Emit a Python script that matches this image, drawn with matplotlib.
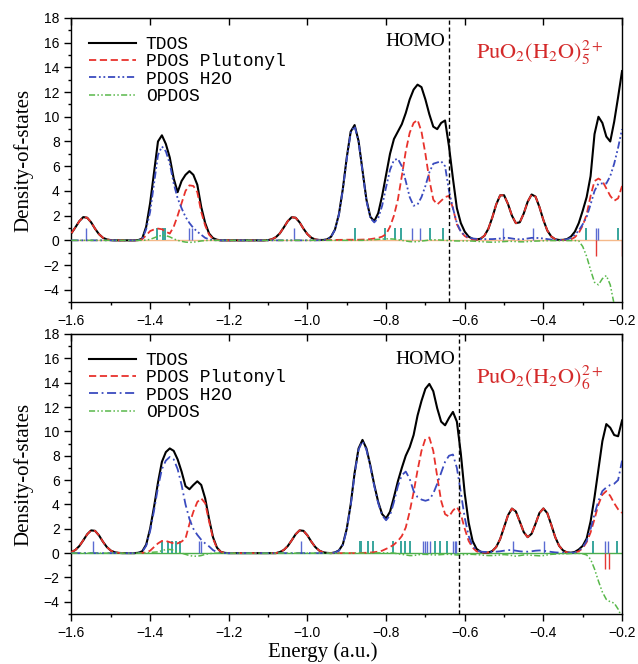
import numpy as np
import matplotlib.pyplot as plt
from matplotlib.ticker import MultipleLocator

plt.rcParams['mathtext.fontset'] = 'stix'
plt.rcParams['lines.solid_joinstyle'] = 'round'
plt.rcParams['lines.dash_joinstyle'] = 'round'

# energy grid (a.u.), one point every 0.01 from -1.60 to -0.20
energy = np.linspace(-1.60, -0.20, 141)

# ---------- PuO2(H2O)5 2+ (upper panel) ----------
tdos_5 = [
    0.58, 1.05, 1.55, 1.88, 1.83, 1.46, 0.94, 0.50, 0.21, 0.07,
    0.02, 0.0, 0.0, 0.0, 0.0, 0.0, 0.0, 0.02, 0.15, 1.1,
    3.0, 5.5, 8.0, 8.5, 7.8, 6.7, 5.0, 3.9, 4.8, 5.3,
    5.6, 5.3, 4.5, 2.7, 1.4, 0.55, 0.18, 0.05, 0.0, 0.0,
    0.0, 0.0, 0.0, 0.0, 0.0, 0.0, 0.0, 0.0, 0.0, 0.0,
    0.02, 0.09, 0.26, 0.57, 1.05, 1.55, 1.87, 1.83, 1.46, 0.94,
    0.50, 0.21, 0.07, 0.03, 0.03, 0.08, 0.29, 0.87, 2.1, 4.15,
    6.7, 8.8, 9.33, 8.05, 5.7, 3.3, 1.9, 1.55, 2.2, 3.6,
    5.3, 7.0, 8.2, 8.8, 9.4, 10.3, 11.4, 12.2, 12.6, 12.4,
    11.4, 10.2, 9.2, 9.0, 9.5, 9.7, 7.6, 5.0, 2.6, 1.4,
    0.7, 0.3, 0.12, 0.07, 0.13, 0.37, 0.93, 1.84, 2.90, 3.64,
    3.65, 2.94, 2.0, 1.39, 1.46, 2.17, 3.12, 3.71, 3.54, 2.69,
    1.64, 0.79, 0.31, 0.09, 0.03, 0.04, 0.1, 0.3, 0.7, 1.4,
    2.4, 3.5, 5.2, 8.6, 10.0, 9.5, 8.4, 8.0, 9.6, 11.6,
    13.7,
]
plutonyl_5 = [
    0.58, 1.05, 1.55, 1.88, 1.83, 1.46, 0.94, 0.50, 0.21, 0.07,
    0.02, 0.0, 0.0, 0.0, 0.0, 0.0, 0.0, 0.0, 0.1, 0.4,
    0.75, 0.88, 0.95, 0.9, 0.7, 0.55, 1.1, 2.0, 3.0, 4.0,
    4.45, 4.4, 3.9, 2.3, 1.2, 0.45, 0.12, 0.03, 0.0, 0.0,
    0.0, 0.0, 0.0, 0.0, 0.0, 0.0, 0.0, 0.0, 0.0, 0.0,
    0.02, 0.09, 0.26, 0.57, 1.05, 1.55, 1.87, 1.83, 1.46, 0.94,
    0.50, 0.21, 0.07, 0.03, 0.02, 0.02, 0.03, 0.03, 0.04, 0.04,
    0.05, 0.05, 0.05, 0.05, 0.06, 0.07, 0.1, 0.15, 0.2, 0.3,
    0.5, 1.1, 2.0, 3.3, 5.2, 7.2, 8.7, 9.5, 9.75, 8.8,
    7.0, 4.9, 3.3, 2.9, 3.2, 3.5, 3.6, 2.6, 1.3, 0.7,
    0.35, 0.15, 0.05, 0.06, 0.13, 0.37, 0.93, 1.84, 2.90, 3.64,
    3.65, 2.94, 2.0, 1.39, 1.46, 2.17, 3.12, 3.71, 3.54, 2.69,
    1.64, 0.79, 0.31, 0.09, 0.03, 0.02, 0.03, 0.08, 0.25, 0.6,
    1.2, 2.1, 3.6, 4.8, 5.0, 4.8, 4.2, 3.6, 3.2, 3.4,
    4.4,
]
water_5 = [
    0.0, 0.0, 0.0, 0.0, 0.0, 0.0, 0.0, 0.0, 0.0, 0.0,
    0.0, 0.0, 0.0, 0.0, 0.0, 0.0, 0.0, 0.02, 0.12, 0.9,
    2.3, 4.6, 6.9, 7.6, 7.2, 6.2, 4.6, 3.4, 2.6, 1.9,
    1.4, 1.0, 0.7, 0.45, 0.2, 0.08, 0.02, 0.0, 0.0, 0.0,
    0.0, 0.0, 0.0, 0.0, 0.0, 0.0, 0.0, 0.0, 0.0, 0.0,
    0.0, 0.0, 0.0, 0.0, 0.0, 0.0, 0.0, 0.0, 0.0, 0.0,
    0.0, 0.0, 0.0, 0.01, 0.02, 0.07, 0.28, 0.85, 2.05, 4.1,
    6.6, 8.7, 9.25, 8.0, 5.6, 3.2, 1.8, 1.45, 1.8, 2.8,
    4.3, 5.7, 6.5, 6.6, 6.0, 4.8, 3.5, 2.8, 2.9, 3.5,
    4.4, 5.5, 6.2, 6.3, 6.4, 6.0, 4.0, 2.6, 1.4, 0.7,
    0.4, 0.25, 0.15, 0.12, 0.1, 0.1, 0.1, 0.1, 0.12, 0.15,
    0.2, 0.2, 0.15, 0.1, 0.08, 0.1, 0.15, 0.2, 0.2, 0.18,
    0.15, 0.1, 0.06, 0.04, 0.03, 0.04, 0.08, 0.2, 0.45, 0.8,
    1.3, 1.9, 2.9, 4.0, 4.6, 4.6, 4.6, 5.2, 6.2, 7.5,
    9.0,
]
opdos_5 = [
    0.0, 0.0, 0.0, 0.0, 0.0, 0.0, 0.0, 0.0, 0.0, 0.0,
    0.0, 0.0, 0.0, 0.0, 0.0, 0.0, 0.0, 0.0, 0.0, 0.02,
    0.08, 0.2, 0.33, 0.4, 0.38, 0.28, 0.12, 0.0, -0.08, -0.14,
    -0.17, -0.15, -0.1, -0.05, -0.02, 0.0, 0.0, 0.0, 0.0, 0.0,
    0.0, 0.0, 0.0, 0.0, 0.0, 0.0, 0.0, 0.0, 0.0, 0.0,
    0.0, 0.0, 0.0, 0.0, 0.0, 0.0, 0.0, 0.0, 0.0, 0.0,
    0.0, 0.0, 0.0, 0.0, 0.0, 0.0, 0.0, 0.0, 0.0, 0.0,
    0.0, 0.0, 0.0, 0.0, 0.0, 0.02, 0.04, 0.06, 0.08, 0.1,
    0.12, 0.12, 0.1, 0.05, 0.0, -0.05, -0.1, -0.12, -0.1, -0.06,
    -0.02, 0.02, 0.04, 0.04, 0.02, 0.0, -0.02, -0.04, -0.05, -0.05,
    -0.05, -0.05, -0.06, -0.08, -0.1, -0.12, -0.14, -0.15, -0.14, -0.12,
    -0.1, -0.08, -0.08, -0.1, -0.12, -0.12, -0.1, -0.08, -0.06, -0.05,
    -0.04, -0.03, -0.02, -0.02, -0.02, -0.02, -0.02, -0.02, -0.02, -0.05,
    -0.5, -1.3, -2.4, -3.4, -3.6, -3.1, -2.85, -3.6, -5.2, -7.0,
    -9.0,
]
levels_teal_5 = [-1.383, -1.368, -1.362, -0.880, -0.803, -0.778, -0.761,
                 -0.689, -0.655, -0.292, -0.210]
levels_blue_5 = [-1.564, -1.300, -1.294, -1.035, -0.733, -0.714, -0.502,
                 -0.426, -0.265, -0.260]
levels_red_5 = [-0.265, -0.201]
homo_5 = -0.641

# ---------- PuO2(H2O)6 2+ (lower panel) ----------
tdos_6 = [
    0.09, 0.26, 0.58, 1.05, 1.55, 1.87, 1.83, 1.46, 0.94, 0.50,
    0.21, 0.07, 0.02, 0.0, 0.0, 0.0, 0.0, 0.03, 0.15, 0.7,
    2.0, 3.8, 5.8, 7.5, 8.3, 8.6, 8.4, 7.7, 6.7, 5.5,
    5.25, 5.6, 5.9, 5.6, 4.5, 2.8, 1.3, 0.45, 0.1, 0.02,
    0.0, 0.0, 0.0, 0.0, 0.0, 0.0, 0.0, 0.0, 0.0, 0.0,
    0.0, 0.0, 0.0, 0.09, 0.26, 0.58, 1.05, 1.55, 1.87, 1.83,
    1.46, 0.94, 0.50, 0.21, 0.07, 0.02, 0.0, 0.06, 0.22, 0.71,
    2.0, 4.0, 6.6, 8.6, 9.3, 8.6, 7.2, 5.6, 4.2, 3.2,
    2.85, 3.4, 4.6, 5.9, 7.0, 8.0, 8.7, 9.7, 11.3, 12.5,
    13.5, 13.9, 13.3, 11.9, 10.8, 10.5, 11.1, 11.6, 10.8, 8.2,
    4.9, 2.5, 1.0, 0.35, 0.12, 0.04, 0.05, 0.17, 0.50, 1.15,
    2.12, 3.11, 3.66, 3.42, 2.59, 1.73, 1.31, 1.59, 2.41, 3.30,
    3.67, 3.28, 2.33, 1.32, 0.6, 0.22, 0.06, 0.03, 0.1, 0.3,
    0.6, 1.2, 2.6, 4.6, 6.9, 9.2, 10.6, 10.3, 9.7, 9.6,
    10.9,
]
plutonyl_6 = [
    0.09, 0.26, 0.58, 1.05, 1.55, 1.87, 1.83, 1.46, 0.94, 0.50,
    0.21, 0.07, 0.02, 0.0, 0.0, 0.0, 0.0, 0.0, 0.02, 0.05,
    0.2, 0.5, 0.8, 1.0, 1.0, 0.9, 0.8, 0.8, 0.95, 1.2,
    2.4, 3.4, 4.2, 4.5, 4.1, 2.6, 1.2, 0.4, 0.1, 0.02,
    0.0, 0.0, 0.0, 0.0, 0.0, 0.0, 0.0, 0.0, 0.0, 0.0,
    0.0, 0.0, 0.0, 0.09, 0.26, 0.58, 1.05, 1.55, 1.87, 1.83,
    1.46, 0.94, 0.50, 0.21, 0.07, 0.02, 0.0, 0.0, 0.0, 0.0,
    0.0, 0.0, 0.0, 0.0, 0.02, 0.03, 0.05, 0.08, 0.12, 0.2,
    0.35, 0.5, 0.7, 1.0, 1.4, 2.1, 3.4, 5.0, 6.8, 8.4,
    9.4, 9.5, 8.4, 6.3, 4.3, 3.2, 3.0, 3.5, 3.8, 3.2,
    2.0, 1.0, 0.45, 0.15, 0.05, 0.04, 0.05, 0.17, 0.50, 1.15,
    2.12, 3.11, 3.66, 3.42, 2.59, 1.73, 1.31, 1.59, 2.41, 3.30,
    3.67, 3.28, 2.33, 1.32, 0.6, 0.22, 0.06, 0.02, 0.05, 0.15,
    0.4, 0.9, 1.7, 2.8, 4.0, 4.8, 5.1, 4.7, 4.1, 3.6,
    3.3,
]
water_6 = [
    0.0, 0.0, 0.0, 0.0, 0.0, 0.0, 0.0, 0.0, 0.0, 0.0,
    0.0, 0.0, 0.0, 0.0, 0.0, 0.0, 0.0, 0.02, 0.12, 0.6,
    1.8, 3.5, 5.4, 6.9, 7.6, 7.9, 7.7, 6.9, 5.6, 4.0,
    2.8, 2.0, 1.5, 1.1, 0.8, 0.55, 0.25, 0.08, 0.02, 0.0,
    0.0, 0.0, 0.0, 0.0, 0.0, 0.0, 0.0, 0.0, 0.0, 0.0,
    0.0, 0.0, 0.0, 0.0, 0.0, 0.0, 0.0, 0.0, 0.0, 0.0,
    0.0, 0.0, 0.0, 0.0, 0.0, 0.0, 0.0, 0.05, 0.2, 0.68,
    1.9, 3.9, 6.5, 8.5, 9.2, 8.5, 7.1, 5.5, 4.1, 3.1,
    2.7, 3.1, 4.2, 5.5, 6.4, 6.7, 6.1, 5.1, 4.6, 4.4,
    4.3, 4.4, 4.9, 5.7, 6.6, 7.5, 8.0, 8.1, 7.0, 5.0,
    2.9, 1.4, 0.6, 0.25, 0.12, 0.1, 0.1, 0.1, 0.12, 0.15,
    0.2, 0.25, 0.25, 0.2, 0.15, 0.12, 0.12, 0.15, 0.2, 0.22,
    0.2, 0.15, 0.1, 0.06, 0.04, 0.03, 0.03, 0.03, 0.05, 0.2,
    0.5, 1.0, 2.0, 3.2, 4.3, 5.1, 5.4, 5.6, 5.7, 6.0,
    7.6,
]
opdos_6 = [
    0.0, 0.0, 0.0, 0.0, 0.0, 0.0, 0.0, 0.0, 0.0, 0.0,
    0.0, 0.0, 0.0, 0.0, 0.0, 0.0, 0.0, 0.0, 0.0, 0.02,
    0.05, 0.08, 0.1, 0.2, 0.3, 0.3, 0.25, 0.1, 0.0, -0.1,
    -0.2, -0.25, -0.25, -0.2, -0.1, -0.05, 0.0, 0.0, 0.0, 0.0,
    0.0, 0.0, 0.0, 0.0, 0.0, 0.0, 0.0, 0.0, 0.0, 0.0,
    0.0, 0.0, 0.0, 0.0, 0.0, 0.0, 0.0, 0.0, 0.0, 0.0,
    0.0, 0.0, 0.0, 0.0, 0.0, 0.0, 0.0, 0.0, 0.0, 0.0,
    0.0, 0.0, 0.0, 0.0, 0.0, 0.0, 0.0, 0.0, 0.02, 0.02,
    0.02, 0.02, 0.0, -0.05, -0.1, -0.15, -0.2, -0.2, -0.15, -0.1,
    -0.1, -0.12, -0.15, -0.15, -0.12, -0.1, -0.1, -0.12, -0.15, -0.15,
    -0.12, -0.1, -0.1, -0.12, -0.15, -0.18, -0.2, -0.2, -0.18, -0.15,
    -0.12, -0.15, -0.2, -0.25, -0.2, -0.15, -0.15, -0.18, -0.2, -0.22,
    -0.2, -0.15, -0.1, -0.08, -0.05, -0.05, -0.05, -0.03, -0.02, -0.02,
    -0.05, -0.15, -0.5, -1.3, -2.3, -3.2, -3.8, -4.0, -4.1, -4.6,
    -5.3,
]
levels_teal_6 = [-1.370, -1.355, -1.345, -1.335, -1.325, -0.867, -0.863,
                 -0.846, -0.833, -0.782, -0.761, -0.753, -0.740, -0.676,
                 -0.663, -0.646, -0.273, -0.214]
levels_blue_6 = [-1.545, -1.275, -1.270, -1.016, -0.707, -0.701, -0.695,
                 -0.689, -0.630, -0.626, -0.621, -0.478, -0.399, -0.244,
                 -0.235]
levels_red_6 = [-0.244, -0.232]
homo_6 = -0.614

labels = ["TDOS", "PDOS Plutonyl", "PDOS H2O", "OPDOS"]
serif = "Liberation Serif"


def draw_panel(ax, tdos, pu, h2o, op, teal, blue, red, homo, name,
               h2o_ls, zero_col, homo_y, name_y):
    ax.axhline(0, color=zero_col, lw=1.0, zorder=1)
    ax.vlines(teal, 0, 1.0, color="#37a59c", lw=1.4, zorder=2)
    ax.vlines(blue, 0, 1.0, color="#5b6bd2", lw=1.0, zorder=2)
    ax.vlines(red, -1.3, 0, color="#e53935", lw=1.0, zorder=2)

    ax.plot(energy, tdos, color="black", lw=1.5, label=labels[0], zorder=3)
    ax.plot(energy, pu, color="#e8322c", lw=1.3, ls=(0, (4, 2)),
            label=labels[1], zorder=4)
    ax.plot(energy, h2o, color="#3a4bbf", lw=1.3, ls=h2o_ls,
            label=labels[2], zorder=4)
    ax.plot(energy, op, color="#58b84a", lw=1.1,
            ls=(0, (4, 1.5, 1, 1.5, 1, 1.5)), label=labels[3], zorder=4)

    ax.axvline(homo, color="black", lw=1.0, ls=(0, (3, 2)), zorder=5)
    ax.text(homo - 0.01, homo_y, "HOMO", ha="right", va="center",
            fontsize=14, family=serif)
    ax.text(-0.572, name_y, name, ha="left", va="center", fontsize=16,
            color="#d42a2a")

    ax.set_xlim(-1.6, -0.2)
    ax.set_ylim(-5, 18)
    ax.xaxis.set_major_locator(MultipleLocator(0.2))
    ax.xaxis.set_minor_locator(MultipleLocator(0.1))
    ax.yaxis.set_major_locator(MultipleLocator(2))
    ax.yaxis.set_minor_locator(MultipleLocator(1))
    ax.set_yticks(range(-4, 19, 2))
    ax.tick_params(which="both", direction="out", width=1.0,
                   labelsize=10, top=False, right=False)
    ax.tick_params(which="major", length=5)
    ax.tick_params(which="minor", length=2.5)
    for lab in ax.get_xticklabels() + ax.get_yticklabels():
        lab.set_family("Liberation Sans")
    for s in ax.spines.values():
        s.set_linewidth(1.0)

    top = ax.secondary_xaxis("top")
    top.xaxis.set_major_locator(MultipleLocator(0.2))
    top.tick_params(direction="in", length=5, width=1.0, labeltop=False)

    ax.set_ylabel("Density-of-states", family=serif, fontsize=15)
    ax.yaxis.set_label_coords(-0.069, 0.5)

    ax.legend(loc="upper left", bbox_to_anchor=(0.012, 0.975), frameon=False,
              prop={"family": "Liberation Mono", "size": 13},
              handlelength=2.6, handletextpad=0.55, labelspacing=0.02,
              borderaxespad=0.2)


fig = plt.figure(figsize=(6.38, 6.64), dpi=100)
ax1 = fig.add_axes([0.112, 0.545, 0.863, 0.428])
ax2 = fig.add_axes([0.112, 0.0753, 0.863, 0.4217])

draw_panel(ax1, tdos_5, plutonyl_5, water_5, opdos_5,
           levels_teal_5, levels_blue_5, levels_red_5, homo_5,
           r"$\mathrm{PuO_2(H_2O)_5^{2+}}$",
           (0, (4, 1.5, 1, 1.5, 1, 1.5)), "#f5b98a", 16.1, 15.2)
draw_panel(ax2, tdos_6, plutonyl_6, water_6, opdos_6,
           levels_teal_6, levels_blue_6, levels_red_6, homo_6,
           r"$\mathrm{PuO_2(H_2O)_6^{2+}}$",
           (0, (5, 2, 1, 2)), "#4cae4c", 15.9, 14.4)

ax2.set_xlabel("Energy (a.u.)", family=serif, fontsize=15)
ax2.xaxis.set_label_coords(0.456, -0.1)

fig.savefig("out.png", dpi=100)
